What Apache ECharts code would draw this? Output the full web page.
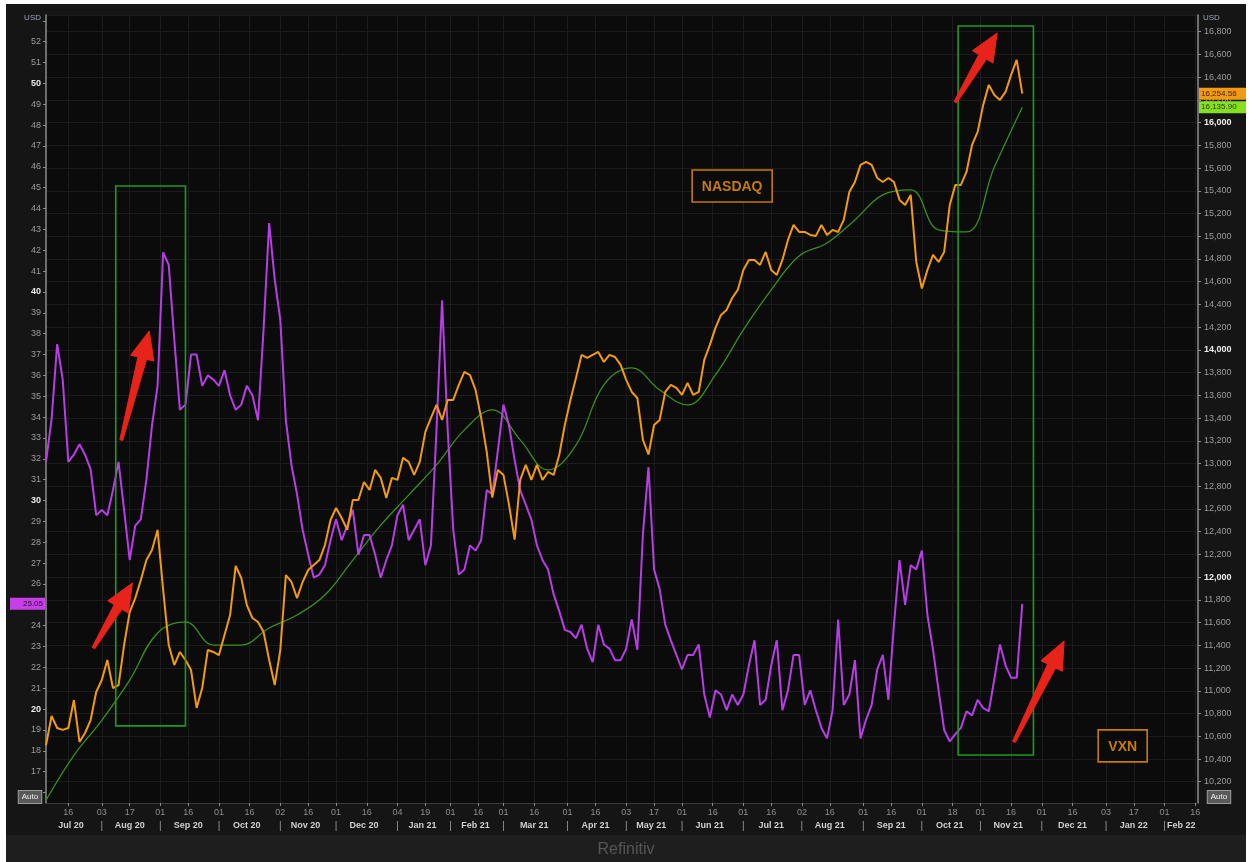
<!DOCTYPE html>
<html><head><meta charset="utf-8">
<script src="https://cdn.jsdelivr.net/npm/echarts@6/dist/echarts.min.js"></script>
<style>
html,body{margin:0;padding:0;background:#fff;}
#wrap{position:relative;width:1252px;height:862px;overflow:hidden;background:#fff;}
#frame{position:absolute;left:6px;top:4px;width:1240px;height:831px;background:#151515;}
#foot{position:absolute;left:6px;top:835px;width:1240px;height:27px;background:#1e1e1e;}
#chart{position:absolute;left:0;top:0;width:1252px;height:862px;}
</style></head><body>
<div id="wrap"><div id="frame"></div><div id="foot"></div><div id="chart"></div></div>
<script>
// ---------- DATA ----------
// Trading-day category axis (NYSE holidays removed up to the last data date)
const axisStart = '2020-07-06';
const axisEnd = '2022-02-17';
const holidays = ['2020-09-07','2020-11-26','2020-12-25','2021-01-01','2021-01-18','2021-02-15',
  '2021-04-02','2021-05-31','2021-07-05','2021-09-06'];
function buildCategories(s, e) {
  const out = []; const d = new Date(s + 'T00:00:00Z'); const end = new Date(e + 'T00:00:00Z');
  while (d <= end) {
    const wd = d.getUTCDay(); const str = d.toISOString().slice(0, 10);
    if (wd !== 0 && wd !== 6 && holidays.indexOf(str) < 0) out.push(str);
    d.setUTCDate(d.getUTCDate() + 1);
  }
  return out;
}
const categories = buildCategories(axisStart, axisEnd);
const monthNames = ['Jan','Feb','Mar','Apr','May','Jun','Jul','Aug','Sep','Oct','Nov','Dec'];

// VXN (left axis), read every 2nd trading day from 2020-07-06
const vxnStep = 2;
const vxn = [31.85,33.9,37.5,35.8,31.85,32.2,32.7,32.2,31.5,29.3,
 29.55,29.3,30.5,31.85,29.55,27.15,28.8,29.1,31.0,33.6,
 35.5,41.9,41.3,37.7,34.35,34.6,37.0,37.0,35.5,36.0,
 35.8,35.5,36.25,35.05,34.35,34.6,35.5,35.05,33.85,38.2,
 43.3,40.6,38.65,33.85,31.7,30.3,28.6,27.4,26.3,26.45,
 26.9,28.1,29.1,28.1,28.8,29.55,27.4,28.35,28.35,27.4,
 26.3,27.15,27.85,29.3,29.8,28.1,28.6,29.1,26.9,27.85,
 33.4,39.6,33.4,28.6,26.45,26.7,27.85,27.6,28.1,30.5,
 30.3,32.4,34.6,33.6,31.95,30.5,29.8,29.1,27.85,27.15,
 26.7,25.5,24.7,23.8,23.7,23.4,24.05,22.9,22.25,24.05,
 23.1,22.9,22.35,22.35,22.9,24.3,22.85,28.4,31.6,26.7,
 25.75,24.05,23.3,22.6,21.9,22.6,22.6,23.1,20.7,19.6,
 20.9,20.7,19.95,20.7,20.2,20.7,22.1,23.3,20.2,20.45,
 22.1,23.3,19.95,20.9,22.6,22.6,20.2,20.9,19.95,19.1,
 18.6,19.95,24.3,20.2,20.7,22.35,18.6,19.5,20.2,21.9,
 22.6,20.45,24.05,27.15,25.0,26.9,26.7,27.6,24.5,22.85,
 20.9,19.0,18.45,18.8,19.1,19.9,19.7,20.45,20.05,19.9,
 21.45,23.1,22.1,21.5,21.5,25.05];

// NASDAQ (right axis), read every 2nd trading day from 2020-07-06
const ndxStep = 2;
const ndx = [10521,10779,10673,10656,10673,10919,10550,10629,10743,10990,
 11095,11271,11025,11051,11403,11693,11816,11975,12151,12240,
 12416,11888,11403,11227,11342,11271,11183,10850,11025,11359,
 11342,11315,11491,11667,12100,11993,11755,11641,11606,11518,
 11271,11051,11359,12019,11958,11816,11958,12063,12107,12151,
 12283,12503,12609,12521,12416,12680,12680,12838,12768,12944,
 12874,12698,12874,12856,13050,13015,12900,13015,13279,13402,
 13516,13384,13560,13560,13692,13806,13778,13648,13402,13103,
 12700,12944,12900,12636,12330,12856,12988,12856,12988,12856,
 12926,12900,13075,13339,13560,13753,13956,13929,13956,13982,
 13894,13956,13938,13868,13736,13630,13577,13208,13080,13339,
 13384,13630,13692,13665,13604,13710,13604,13630,13912,14044,
 14194,14308,14352,14457,14528,14704,14792,14792,14748,14862,
 14704,14660,14792,14968,15100,15038,15038,15012,15003,15100,
 15012,15056,15038,15144,15390,15478,15628,15654,15628,15513,
 15478,15513,15478,15320,15276,15364,14774,14540,14704,14836,
 14774,14862,15276,15452,15452,15566,15804,15918,16156,16332,
 16244,16200,16270,16420,16552,16254.56];

// Moving average of NASDAQ (green), read every 10th trading day from 2020-07-06
const maStep = 10;
const ma = [10037,10433,10741,11095,11509,11606,11403,11403,11553,11667,
 11843,12151,12458,12722,12988,13296,13472,13208,12944,13162,
 13692,13842,13648,13516,13780,14176,14528,14827,14941,15144,
 15364,15408,15056,15038,15609,16135.9];

// Left / right axis tick labels
const leftMajor = [20, 30, 40, 50];
const rightMajor = [12000, 14000, 16000];
// ---------- END DATA ----------

const FONT = 'Liberation Sans, Arial, sans-serif';
const toPairs = (arr, step) => arr.map((v, k) => [categories[k * step], v]);

// day-tick indices (first trading day on/after 1st and 16th) and month label indices
const dayTick = new Set(); const monthSep = new Set(); const monthMid = new Map();
(function () {
  let groupStart = 0;
  for (let i = 0; i < categories.length; i++) {
    const d = categories[i];
    const p = i > 0 ? categories[i - 1] : null;
    if (p) {
      const newMonth = d.slice(5, 7) !== p.slice(5, 7);
      const cross16 = !newMonth && (+d.slice(8, 10) >= 16) && (+p.slice(8, 10) < 16);
      if (newMonth || cross16) dayTick.add(i);
      if (newMonth) {
        monthSep.add(i);
        monthMid.set(Math.floor((groupStart + i - 1) / 2), p);
        groupStart = i;
      }
    }
  }
  monthMid.set(Math.floor((groupStart + categories.length - 1) / 2), categories[categories.length - 1]);
})();
const dayFn = (i) => dayTick.has(i);
const monFn = (i) => monthSep.has(i) || monthMid.has(i);
const fmtNum = (v) => v.toLocaleString('en-US');

const chart = echarts.init(document.getElementById('chart'), null, { renderer: 'canvas' });
const option = {
  animation: false,
  backgroundColor: 'transparent',
  title: { text: 'Refinitiv', left: 'center', top: 837,
    textStyle: { color: '#565656', fontSize: 16, fontWeight: 'normal', fontFamily: FONT } },
  grid: { left: 46, right: 54, top: 15, bottom: 59, show: true, backgroundColor: '#0b0b0b', borderWidth: 0 },
  xAxis: [{
    type: 'category', data: categories, boundaryGap: false,
    axisLine: { show: true, lineStyle: { color: '#3c3c3c', width: 1 } },
    axisTick: { show: true, interval: dayFn, length: 3, lineStyle: { color: '#8a8a8a' } },
    axisLabel: { interval: dayFn, formatter: (v) => v.slice(8, 10), color: '#8e8e8e',
      fontSize: 9, fontFamily: FONT, margin: 5 },
    splitLine: { show: true, interval: dayFn, lineStyle: { color: '#1c1c1c', width: 1 } }
  }, {
    type: 'category', data: categories, boundaryGap: false, position: 'bottom', offset: 14,
    axisLine: { show: false }, axisTick: { show: false }, splitLine: { show: false },
    axisLabel: { interval: monFn, margin: 4, fontSize: 9, fontFamily: FONT, color: '#cfcfcf', fontWeight: 'bold',
      formatter: (v, i) => {
        if (monthMid.has(i)) { const d = monthMid.get(i); return monthNames[+d.slice(5, 7) - 1] + ' ' + d.slice(2, 4); }
        return '{s||}';
      },
      rich: { s: { color: '#9a9a9a', fontSize: 10, fontWeight: 'normal', fontFamily: FONT } } }
  }],
  yAxis: [{
    type: 'value', position: 'left', min: 15.5, max: 53.28, minInterval: 1, maxInterval: 1, splitNumber: 38,
    axisLine: { show: true, lineStyle: { color: '#8c8c8c', width: 1.5 } },
    axisTick: { show: true, length: 3, lineStyle: { color: '#8c8c8c' } },
    axisLabel: { margin: 5, fontSize: 9, fontFamily: FONT, color: '#9c9c9c', showMinLabel: false, showMaxLabel: false,
      formatter: (v) => {
        if (Math.abs(v - Math.round(v)) > 1e-6 || v <= 16 || v >= 53) return '';
        return leftMajor.indexOf(v) >= 0 ? '{b|' + v + '}' : String(v);
      },
      rich: { b: { color: '#ececec', fontWeight: 'bold', fontSize: 9, fontFamily: FONT } } },
    splitLine: { show: false }
  }, {
    type: 'value', position: 'right', min: 10013, max: 16947, minInterval: 200, maxInterval: 200, splitNumber: 35,
    axisLine: { show: true, lineStyle: { color: '#8c8c8c', width: 1.5 } },
    axisTick: { show: true, length: 3, lineStyle: { color: '#8c8c8c' } },
    axisLabel: { margin: 6, fontSize: 9, fontFamily: FONT, color: '#9c9c9c', showMinLabel: false, showMaxLabel: false,
      formatter: (v) => {
        if (Math.abs(v / 200 - Math.round(v / 200)) > 1e-6) return '';
        return rightMajor.indexOf(v) >= 0 ? '{b|' + fmtNum(v) + '}' : fmtNum(v);
      },
      rich: { b: { color: '#ececec', fontWeight: 'bold', fontSize: 9, fontFamily: FONT } } },
    splitLine: { show: true, lineStyle: { color: '#1c1c1c', width: 1 } }
  }],
  series: [{
    name: 'VXN', type: 'line', xAxisIndex: 0, yAxisIndex: 0, data: toPairs(vxn, vxnStep),
    symbol: 'none', lineStyle: { color: '#b73ee6', width: 2 }, z: 3
  }, {
    name: 'NASDAQ', type: 'line', xAxisIndex: 0, yAxisIndex: 1, data: toPairs(ndx, ndxStep),
    symbol: 'none', lineStyle: { color: '#f29a12', width: 2 }, z: 4
  }, {
    name: 'MA', type: 'line', xAxisIndex: 0, yAxisIndex: 1, data: toPairs(ma, maStep),
    symbol: 'none', smooth: 0.4, lineStyle: { color: '#3a8f1e', width: 1.3 }, z: 2
  }]
};
chart.setOption(option);

// ---------- annotations, positioned in data coordinates (category index, VXN value) ----------
const boxes = [[[25.1, 45.08], [49.5, 19.2]], [[327.3, 52.75], [354.1, 17.8]]];
const arrows = [[[26.5, 32.9], [36.9, 38.13]], [[16.5, 22.93], [30.8, 26.05]],
  [[325.9, 49.1], [340.6, 52.42]], [[347.4, 18.43], [364.6, 23.27]]];
const textBoxes = [{ text: 'NASDAQ', at: [246, 45.08], w: 80 }, { text: 'VXN', at: [385.8, 18.24], w: 49 }];
const px = (p) => chart.convertToPixel({ seriesIndex: 0 }, p);
const pxR = (p) => chart.convertToPixel({ seriesIndex: 1 }, p);

function arrowPoly(t, p) {
  const dx = p[0] - t[0], dy = p[1] - t[1]; const L = Math.hypot(dx, dy);
  const ux = dx / L, uy = dy / L, nx = -uy, ny = ux;
  const hl = 28, hw = 12, s0 = 1.5, s1 = 4.5;
  const bx = p[0] - ux * hl, by = p[1] - uy * hl;
  return [[t[0] + nx * s0, t[1] + ny * s0], [bx + nx * s1, by + ny * s1], [bx + nx * hw, by + ny * hw], [p[0], p[1]],
    [bx - nx * hw, by - ny * hw], [bx - nx * s1, by - ny * s1], [t[0] - nx * s0, t[1] - ny * s0]];
}
const g = [];
boxes.forEach((b) => {
  const a = px(b[0]), c = px(b[1]);
  g.push({ type: 'rect', shape: { x: a[0], y: a[1], width: c[0] - a[0], height: c[1] - a[1] },
    style: { fill: 'none', stroke: '#1f9a1f', lineWidth: 1.6 }, z: 10 });
});
arrows.forEach((ar) => {
  g.push({ type: 'polygon', shape: { points: arrowPoly(px(ar[0]), px(ar[1])) },
    style: { fill: '#e8231a', stroke: '#e8231a', lineWidth: 1 }, z: 11 });
});
textBoxes.forEach((tb) => {
  const c = px(tb.at);
  g.push({ type: 'rect', shape: { x: c[0] - tb.w / 2, y: c[1] - 16, width: tb.w, height: 32 },
    style: { fill: '#0b0b0b', stroke: '#c97a06', lineWidth: 1.6 }, z: 10 });
  g.push({ type: 'text', x: c[0], y: c[1] + 1, z: 11,
    style: { text: tb.text, fill: '#c87c08', fontSize: 14, fontWeight: 'bold', fontFamily: FONT, align: 'center', verticalAlign: 'middle' } });
});
// last-value tags on the axes
const vLast = px([2 * (vxn.length - 1), vxn[vxn.length - 1]]);
const nLast = pxR([2 * (ndx.length - 1), ndx[ndx.length - 1]]);
const mLast = pxR([maStep * (ma.length - 1), ma[ma.length - 1]]);
g.push({ type: 'rect', shape: { x: 10, y: vLast[1] - 6, width: 35, height: 12 }, style: { fill: '#c63fe8' }, z: 12 });
g.push({ type: 'text', x: 43, y: vLast[1], z: 13, style: { text: vxn[vxn.length - 1].toFixed(2), fill: '#2a0533',
  fontSize: 8, fontFamily: FONT, align: 'right', verticalAlign: 'middle' } });
g.push({ type: 'rect', shape: { x: 1199, y: nLast[1] - 6, width: 47, height: 12 }, style: { fill: '#f39a14' }, z: 12 });
g.push({ type: 'text', x: 1201, y: nLast[1], z: 13, style: { text: ndx[ndx.length - 1].toLocaleString('en-US', { minimumFractionDigits: 2 }),
  fill: '#3a1d00', fontSize: 8, fontFamily: FONT, align: 'left', verticalAlign: 'middle' } });
g.push({ type: 'rect', shape: { x: 1199, y: mLast[1] - 6, width: 47, height: 12 }, style: { fill: '#86e01e' }, z: 12 });
g.push({ type: 'text', x: 1201, y: mLast[1], z: 13, style: { text: ma[ma.length - 1].toLocaleString('en-US', { minimumFractionDigits: 2 }),
  fill: '#1d3a05', fontSize: 8, fontFamily: FONT, align: 'left', verticalAlign: 'middle' } });
// axis unit captions and "Auto" buttons
g.push({ type: 'text', x: 41, y: 18, z: 12, style: { text: 'USD', fill: '#9aa4b4', fontSize: 8, fontFamily: FONT, align: 'right', verticalAlign: 'middle' } });
g.push({ type: 'text', x: 1203, y: 18, z: 12, style: { text: 'USD', fill: '#9aa4b4', fontSize: 8, fontFamily: FONT, align: 'left', verticalAlign: 'middle' } });
g.push({ type: 'text', x: 30, y: 797, z: 12, style: { text: 'Auto', fill: '#f0f0f0', fontSize: 8, fontFamily: FONT, align: 'center', verticalAlign: 'middle',
  backgroundColor: '#5a5a5a', padding: [2, 3], borderColor: '#9a9a9a', borderWidth: 1 } });
g.push({ type: 'text', x: 1219, y: 797, z: 12, style: { text: 'Auto', fill: '#f0f0f0', fontSize: 8, fontFamily: FONT, align: 'center', verticalAlign: 'middle',
  backgroundColor: '#5a5a5a', padding: [2, 3], borderColor: '#9a9a9a', borderWidth: 1 } });
chart.setOption({ graphic: { elements: g } });
</script>
</body></html>
